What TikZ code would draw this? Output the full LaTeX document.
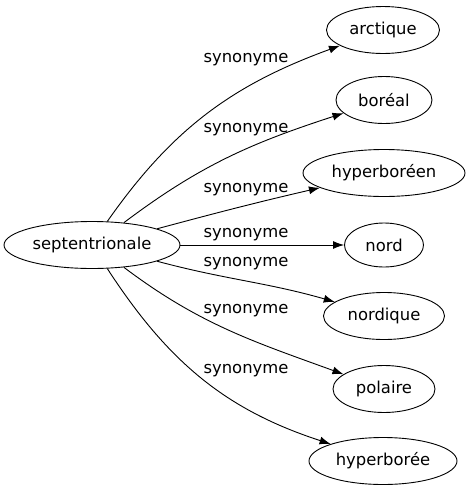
\documentclass[tikz,border=0pt]{standalone}
\usepackage{fontspec}
\setmainfont{DejaVu Sans}
\usepackage{tikz}
\usetikzlibrary{shapes.geometric}
\usetikzlibrary{arrows.meta}

\begin{document}
\begin{tikzpicture}[x=1pt, y=1pt, line width=0.9pt,
    word/.style={draw, ellipse, inner sep=0pt, minimum height=47pt,
        font=\fontsize{16.4}{20}\selectfont},
    lab/.style={anchor=base, inner sep=0pt, font=\fontsize{16.4}{20}\selectfont},
    syn/.style={-{Latex[length=11pt, width=8pt]}}]
    \useasboundingbox (0,0) rectangle (469,-491);
    \node[word, minimum width=176pt] (septentrionale) at (92,-245) {septentrionale};
    \node[word, minimum width=113pt] (arctique) at (383,-30) {arctique};
    \node[word, minimum width=96pt] (boreal) at (384,-100) {boréal};
    \node[word, minimum width=162pt] (hyperboreen) at (384,-173) {hyperboréen};
    \node[word, minimum width=79pt, minimum height=44pt] (nord) at (384,-245) {nord};
    \node[word, minimum width=121pt] (nordique) at (384,-316) {nordique};
    \node[word, minimum width=102pt] (polaire) at (384,-389) {polaire};
    \node[word, minimum width=148pt] (hyperboree) at (383,-461) {hyperborée};

    \draw[syn] (septentrionale.57) to[out=55, in=200] (arctique.200);
    \draw[syn] (septentrionale.35) to[out=37, in=198] (boreal.198);
    \draw[syn] (septentrionale.14) to[out=15, in=193] (hyperboreen.193);
    \draw[syn] (septentrionale.east) -- (nord.west);
    \draw[syn] (septentrionale.-14) to[out=-15, in=164] (nordique.164);
    \draw[syn] (septentrionale.-35) to[out=-37, in=160] (polaire.160);
    \draw[syn] (septentrionale.-57) to[out=-57, in=162] (hyperboree.162);

    \node[lab] (syn1) at (246,-62) {synonyme};
    \node[lab] (syn2) at (246,-132) {synonyme};
    \node[lab] (syn3) at (246,-192) {synonyme};
    \node[lab] (syn4) at (246,-237) {synonyme};
    \node[lab] (syn5) at (246,-266) {synonyme};
    \node[lab] (syn6) at (246,-313) {synonyme};
    \node[lab] (syn7) at (246,-373) {synonyme};
\end{tikzpicture}
\end{document}
